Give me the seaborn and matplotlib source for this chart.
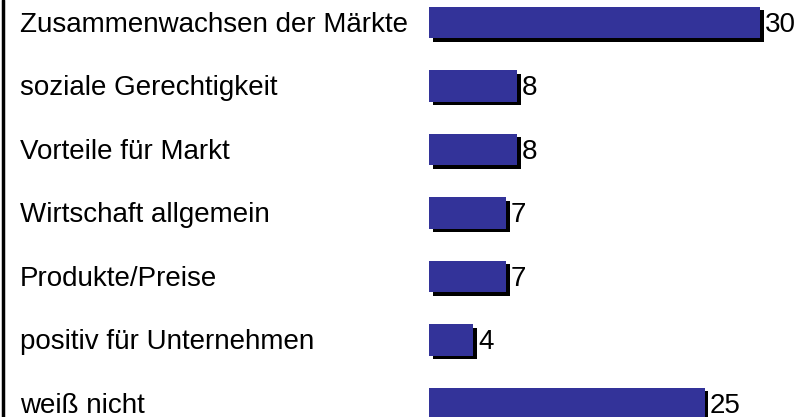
import matplotlib
matplotlib.use("Agg")
import matplotlib.pyplot as plt
import matplotlib.patheffects as pe
from matplotlib.lines import Line2D
import seaborn as sns
import pandas as pd

# Daten
categories = ["Zusammenwachsen der Märkte", "soziale Gerechtigkeit", "Vorteile für Markt",
              "Wirtschaft allgemein", "Produkte/Preise", "positiv für Unternehmen", "weiß nicht"]
values = [30, 8, 8, 7, 7, 4, 25]

df = pd.DataFrame({"kategorie": categories, "wert": values})

sns.set_style("white")
plt.rcParams["font.family"] = ["Liberation Sans", "DejaVu Sans"]
plt.rcParams["text.color"] = "black"

fig = plt.figure(figsize=(8, 4.17), dpi=100)
ax = fig.add_axes([0, 0, 1, 1])

sns.barplot(data=df, y="kategorie", x="wert", orient="h", color="#333399",
            saturation=1, width=0.5, linewidth=0, ax=ax)

# Schatten unten rechts
shadow = [pe.SimplePatchShadow(offset=(2.6, -2.6), shadow_rgbFace="black", alpha=1), pe.Normal()]
for bar in ax.patches:
    bar.set_path_effects(shadow)

# Achsen so legen, dass 0 bei x=429px liegt
px_per_unit = 11.03
ax.set_xlim(-429 / px_per_unit, (800 - 429) / px_per_unit)
ax.set_ylim((417 - 22.5) / 63.5, -22.5 / 63.5)
ax.axis("off")

for i, (cat, v) in enumerate(zip(categories, values)):
    ax.annotate(cat, xy=(0.025, i), xycoords=ax.get_yaxis_transform(),
                xytext=(0, -1.5), textcoords="offset points",
                fontsize=20, va="center", ha="left", color="black")
    ax.annotate(str(v), xy=(v, i), xytext=(3.5, -1.5), textcoords="offset points",
                fontsize=20, va="center", ha="left", color="black")

# linker Rahmen
fig.add_artist(Line2D([0.004, 0.004], [0, 1], color="black", lw=2.5, transform=fig.transFigure))

fig.savefig("out.png", dpi=100)
